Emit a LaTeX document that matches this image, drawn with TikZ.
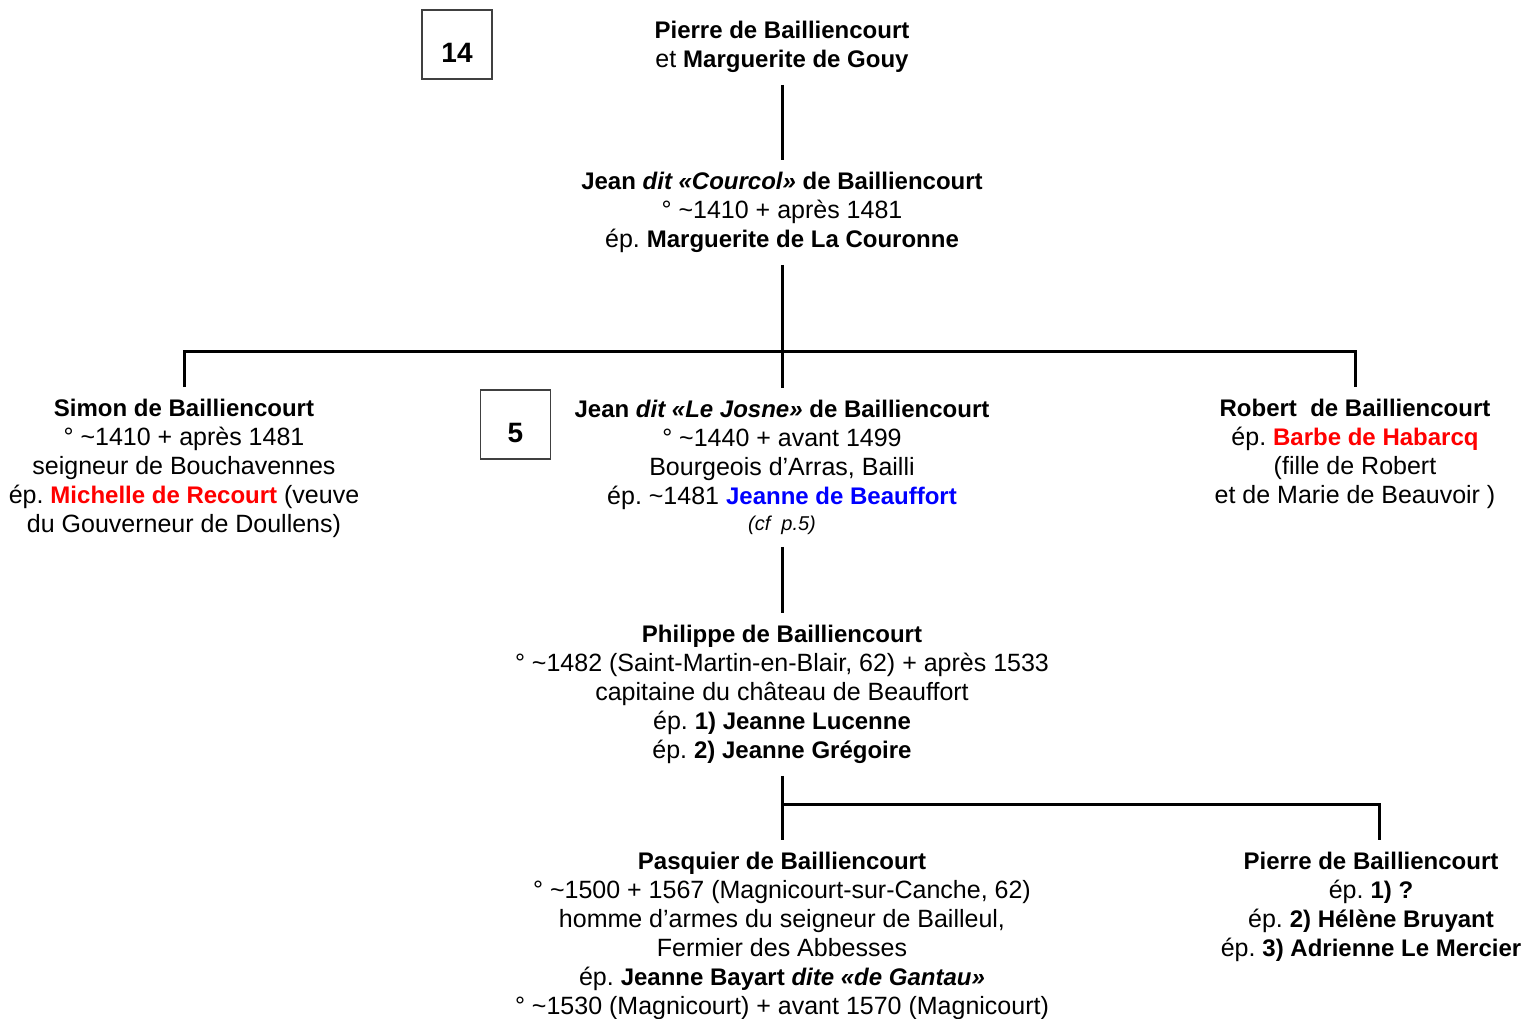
\documentclass[tikz,border=0pt]{standalone}
\usepackage{fontspec}
\setmainfont{Liberation Sans}
\usepackage{tikz}

\definecolor{wifered}{RGB}{255,0,0}
\definecolor{wifeblue}{RGB}{0,0,255}
\newcommand{\tld}{\textasciitilde}
\newcommand{\nm}[1]{{\fontsize{24}{29}\selectfont\bfseries #1}}
\frenchspacing

\begin{document}
\begin{tikzpicture}[x=1pt, y=-1pt,
  person/.style={align=center, anchor=north, inner xsep=0pt, inner ysep=12pt,
    font=\fontsize{25}{29}\selectfont},
  link/.style={line width=3pt},
  numbox/.style={draw=black!75, line width=1.2pt, minimum width=70pt,
    minimum height=69pt, inner sep=0pt, font=\bfseries\fontsize{28}{30}\selectfont}]
  \useasboundingbox (0,0) rectangle (1526,1019);

  \node [numbox] (box14) at (457,44.5) {\raisebox{-8pt}[20pt][0pt]{14}};
  \node [numbox] (box5) at (515.5,424.5) {\raisebox{-8pt}[20pt][0pt]{5}};

  \node [person] (parents) at (782,9) {\nm{Pierre de Bailliencourt}\\
    et \nm{Marguerite de Gouy}};
  \node [person] (courcol) at (782,160) {\nm{Jean \textit{dit «Courcol»} de Bailliencourt}\\
    ° \tld1410 + après 1481\\
    ép. \nm{Marguerite de La Couronne}};

  % children of Jean dit Courcol
  \node [person] (simon) at (184,387) {\nm{Simon de Bailliencourt}\\
    ° \tld1410 + après 1481\\
    seigneur de Bouchavennes\\
    ép. \textcolor{wifered}{\nm{Michelle de Recourt}} (veuve\\
    du Gouverneur de Doullens)};
  \node [person] (josne) at (782,388) {\nm{Jean \textit{dit «Le Josne»} de Bailliencourt}\\
    ° \tld1440 + avant 1499\\
    Bourgeois d’Arras, Bailli\\
    ép. \tld1481 \textcolor{wifeblue}{\nm{Jeanne de Beauffort}}\\[-3pt]
    {\itshape\fontsize{20}{24}\selectfont (cf\ \ p.5)}};
  \node [person] (robert) at (1355,387) {\nm{Robert\ \ de Bailliencourt}\\
    ép. \textcolor{wifered}{\nm{Barbe de Habarcq}}\\
    (fille de Robert\\
    et de Marie de Beauvoir )};

  \node [person] (philippe) at (782,613) {\nm{Philippe de Bailliencourt}\\
    ° \tld1482 (Saint-Martin-en-Blair, 62) + après 1533\\
    capitaine du château de Beauffort\\
    ép. \nm{1) Jeanne Lucenne}\\
    ép. \nm{2) Jeanne Grégoire}};

  % children of Philippe
  \node [person] (pasquier) at (782,840) {\nm{Pasquier de Bailliencourt}\\
    ° \tld1500 + 1567 (Magnicourt-sur-Canche, 62)\\
    homme d’armes du seigneur de Bailleul,\\
    Fermier des Abbesses\\
    ép. \nm{Jeanne Bayart \textit{dite «de Gantau»}}\\
    ° \tld1530 (Magnicourt) + avant 1570 (Magnicourt)};
  \node [person] (pierre) at (1371,840) {\nm{Pierre de Bailliencourt}\\
    ép. \nm{1) ?}\\
    ép. \nm{2) Hélène Bruyant}\\
    ép. \nm{3) Adrienne Le Mercier}};

  \coordinate (fork1) at (782,351);
  \coordinate (fork2) at (782,804);
  \draw [link] (parents.south) -- (courcol.north);
  \draw [link] (courcol.south) -- (josne.north);
  \draw [link] (simon.north) |- (fork1) -| (robert.north);
  \draw [link] (josne.south) -- (philippe.north);
  \draw [link] (philippe.south) -- (pasquier.north);
  \draw [link] (fork2) -| ([xshift=8pt]pierre.north);
\end{tikzpicture}
\end{document}
